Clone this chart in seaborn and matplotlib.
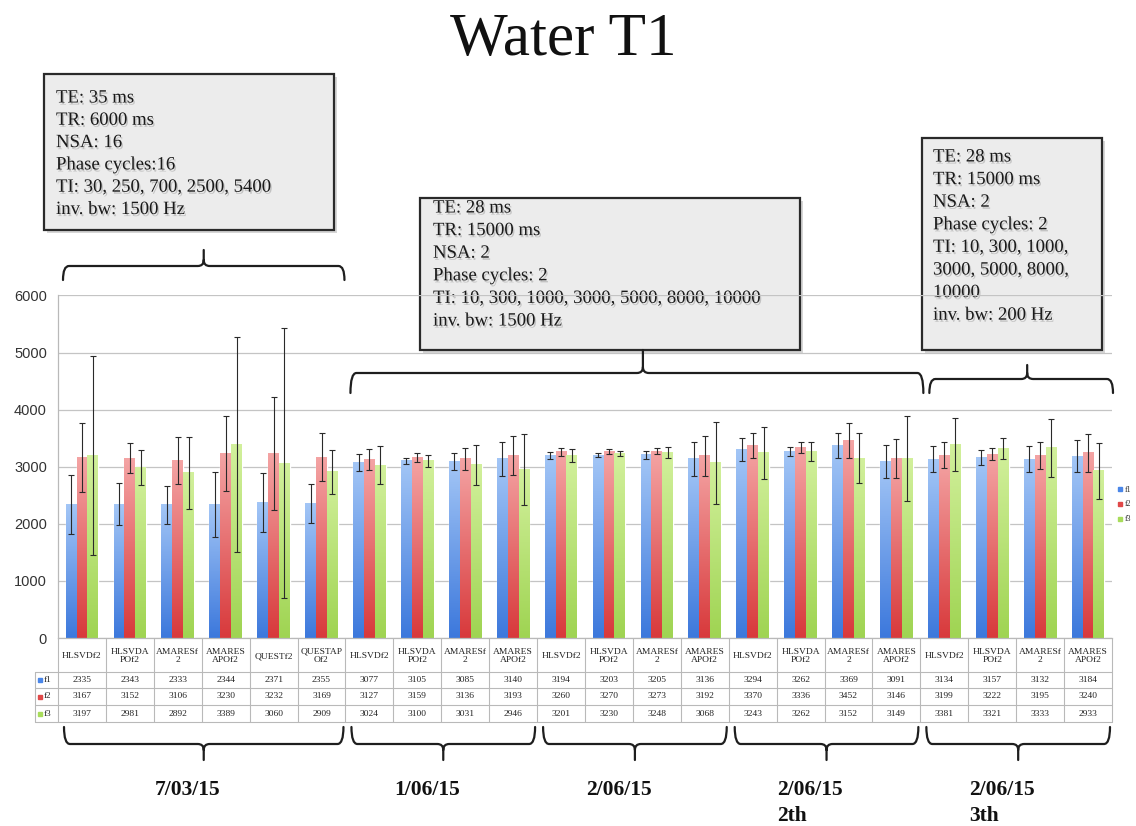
import numpy as np
import pandas as pd
import matplotlib
matplotlib.use("Agg")
import matplotlib.pyplot as plt
import matplotlib.transforms as mtransforms
import matplotlib.patheffects as pe
from matplotlib.path import Path
from matplotlib.patches import PathPatch, Rectangle
from matplotlib.lines import Line2D
from matplotlib.colors import LinearSegmentedColormap
import seaborn as sns

# ---------------------------------------------------------------- data
methods = ["HLSVDf2", "HLSVDAPOf2", "AMARESf2", "AMARESAPOf2", "QUESTf2", "QUESTAPOf2",
           "HLSVDf2", "HLSVDAPOf2", "AMARESf2", "AMARESAPOf2",
           "HLSVDf2", "HLSVDAPOf2", "AMARESf2", "AMARESAPOf2",
           "HLSVDf2", "HLSVDAPOf2", "AMARESf2", "AMARESAPOf2",
           "HLSVDf2", "HLSVDAPOf2", "AMARESf2", "AMARESAPOf2"]
header_text = {"HLSVDf2": "HLSVDf2", "HLSVDAPOf2": "HLSVDA\nPOf2", "AMARESf2": "AMARESf\n2",
               "AMARESAPOf2": "AMARES\nAPOf2", "QUESTf2": "QUESTf2", "QUESTAPOf2": "QUESTAP\nOf2"}

f1 = [2335, 2343, 2333, 2344, 2371, 2355,
      3077, 3105, 3085, 3140,
      3194, 3203, 3205, 3136,
      3294, 3262, 3369, 3091,
      3134, 3157, 3132, 3184]
f2 = [3167, 3152, 3106, 3230, 3232, 3169,
      3127, 3159, 3136, 3193,
      3260, 3270, 3273, 3192,
      3370, 3336, 3452, 3146,
      3199, 3222, 3195, 3240]
f3 = [3197, 2981, 2892, 3389, 3060, 2909,
      3024, 3100, 3031, 2946,
      3201, 3230, 3248, 3068,
      3243, 3262, 3152, 3149,
      3381, 3321, 3333, 2933]

f1_err = [520, 370, 330, 570, 515, 340,
          150, 55, 150, 300,
          55, 40, 65, 300,
          200, 80, 220, 290,
          225, 135, 225, 280]
f2_err = [605, 260, 410, 660, 985, 415,
          180, 85, 190, 345,
          70, 45, 50, 350,
          220, 90, 305, 340,
          230, 100, 230, 340]
f3_err = [1745, 310, 635, 1880, 2365, 385,
          330, 110, 345, 620,
          110, 45, 90, 720,
          460, 165, 435, 745,
          465, 190, 510, 490]

series_names = ["f1", "f2", "f3"]
y_ticks = [0, 1000, 2000, 3000, 4000, 5000, 6000]

session_labels = [["7/03/15"], ["1/06/15"], ["2/06/15"], ["2/06/15", "2th"], ["2/06/15", "3th"]]
session_sizes = [6, 4, 4, 4, 4]

protocol_notes = [
    ["TE: 35 ms", "TR: 6000 ms", "NSA: 16", "Phase cycles:16",
     "TI: 30, 250, 700, 2500, 5400", "inv. bw: 1500 Hz"],
    ["TE: 28 ms", "TR: 15000 ms", "NSA: 2", "Phase cycles: 2",
     "TI: 10, 300, 1000, 3000, 5000, 8000, 10000", "inv. bw: 1500 Hz"],
    ["TE: 28 ms", "TR: 15000 ms", "NSA: 2", "Phase cycles: 2",
     "TI: 10, 300, 1000,", "3000, 5000, 8000,", "10000", "inv. bw: 200 Hz"],
]
protocol_sessions = [(0, 0), (1, 3), (4, 4)]

# ---------------------------------------------------------------- style
W, H = 1136, 826
sns.set_style("white")
plt.rcParams["font.family"] = ["Liberation Serif", "DejaVu Serif"]

bar_bottom = {"f1": "#3c78dc", "f2": "#d8393b", "f3": "#9fd452"}
bar_top = {"f1": "#a3c6f6", "f2": "#f4a4a4", "f3": "#d2f09c"}
key_color = {"f1": "#4a86e8", "f2": "#e04848", "f3": "#a8dc5a"}
line_col = "#1e1e1e"
grid_col = "#c4c4c4"
table_col = "#b9b9b9"

fig = plt.figure(figsize=(W / 100, H / 100), dpi=100)
ax_left, ax_right, ax_top, ax_bottom = 58, 1112, 295.4, 638
ax = fig.add_axes([ax_left / W, 1 - ax_bottom / H, (ax_right - ax_left) / W, (ax_bottom - ax_top) / H])
ax.patch.set_visible(False)

n = len(methods)
df = pd.DataFrame({
    "col": np.tile(np.arange(n), 3),
    "series": np.repeat(series_names, n),
    "value": f1 + f2 + f3,
})
errs = {"f1": f1_err, "f2": f2_err, "f3": f3_err}

sns.barplot(data=df, x="col", y="value", hue="series", order=list(range(n)),
            hue_order=series_names, palette=bar_bottom, saturation=1,
            width=0.68, gap=0, errorbar=None, legend=False, ax=ax, zorder=2)

# vertical colour gradient inside each bar + error bars
grad = np.linspace(0, 1, 128).reshape(-1, 1)
for name, cont in zip(series_names, ax.containers):
    cmap = LinearSegmentedColormap.from_list(name, [bar_bottom[name], bar_top[name]])
    xs, ys = [], []
    for bar in cont:
        x0, w, h = bar.get_x(), bar.get_width(), bar.get_height()
        ax.imshow(grad, extent=(x0, x0 + w, 0, h), origin="lower", aspect="auto",
                  cmap=cmap, interpolation="bilinear", zorder=2.1)
        xs.append(x0 + w / 2)
        ys.append(h)
    ax.errorbar(xs, ys, yerr=errs[name], fmt="none", ecolor="#2a2a2a",
                elinewidth=0.8, capsize=2, capthick=0.8, zorder=3)

ax.set_xlim(-0.5, n - 0.5)
ax.set_ylim(0, 6000)
ax.set_yticks(y_ticks)
ax.set_xticks([])
ax.set_xlabel("")
ax.set_ylabel("")
ax.yaxis.grid(True, color=grid_col, lw=0.9)
ax.set_axisbelow(True)
ax.tick_params(axis="y", length=0, pad=8, labelsize=10.5, labelcolor="#333333")
for lbl in ax.get_yticklabels():
    lbl.set_fontfamily(["Liberation Sans", "DejaVu Sans"])
for s in ["top", "right"]:
    ax.spines[s].set_visible(False)
for s in ["left", "bottom"]:
    ax.spines[s].set_color(table_col)
    ax.spines[s].set_linewidth(0.9)

handles = [Line2D([], [], ls="", marker="s", ms=2.5, color=key_color[s]) for s in series_names]
ax.legend(handles, series_names, loc="center left", bbox_to_anchor=(1.006, 0.39),
          frameon=False, fontsize=5.5, handlelength=0.5, handletextpad=0.3,
          labelspacing=0.9, borderpad=0, borderaxespad=0)

# ---------------------------------------------------------------- helpers (pixel layout)
pix = mtransforms.Affine2D().scale(1 / W, -1 / H).translate(0, 1) + fig.transFigure
bl = mtransforms.blended_transform_factory(ax.transData, pix)
col_w = (ax_right - ax_left) / n


def col_px(x):
    return ax_left + (x + 0.5) * col_w


# ---------------------------------------------------------------- data table
row_edges = [672, 688, 705, 722]
tbl_left = 35
for k in range(n + 1):
    fig.add_artist(Line2D([k - 0.5, k - 0.5], [ax_bottom, row_edges[-1]], transform=bl,
                          color=table_col, lw=0.8))
fig.add_artist(Line2D([tbl_left, tbl_left], [row_edges[0], row_edges[-1]], transform=pix,
                      color=table_col, lw=0.8))
for y in row_edges:
    fig.add_artist(Line2D([tbl_left, ax_right], [y, y], transform=pix, color=table_col, lw=0.8))

head_mid = (ax_bottom + row_edges[0]) / 2 + 1
for i, m in enumerate(methods):
    fig.text(i, head_mid, header_text[m], transform=bl, ha="center", va="center",
             fontsize=6.8, linespacing=1.05, color="#222222")

for r, (name, vals) in enumerate(zip(series_names, [f1, f2, f3])):
    yc = (row_edges[r] + row_edges[r + 1]) / 2
    for i, v in enumerate(vals):
        fig.text(i, yc, f"{v}", transform=bl, ha="center", va="center",
                 fontsize=6.8, color="#222222")
    fig.add_artist(Line2D([40], [yc], transform=pix, ls="", marker="s", ms=2.5,
                          color=key_color[name]))
    fig.text(44, yc, name, transform=pix, ha="left", va="center", fontsize=6.5, color="#222222")


# ---------------------------------------------------------------- braces
def brace(x0, x1, xm, y_end, y_line, y_tip, r=6):
    s = 1 if y_tip < y_line else -1
    verts = [(x0, y_end), (x0, y_line), (x0 + r, y_line),
             (xm - r, y_line), (xm, y_line), (xm, y_line - s * r), (xm, y_tip),
             (xm, y_line - s * r), (xm, y_line), (xm + r, y_line),
             (x1 - r, y_line), (x1, y_line), (x1, y_end)]
    codes = [Path.MOVETO, Path.CURVE3, Path.CURVE3,
             Path.LINETO, Path.CURVE3, Path.CURVE3, Path.LINETO,
             Path.MOVETO, Path.CURVE3, Path.CURVE3,
             Path.LINETO, Path.CURVE3, Path.CURVE3]
    fig.add_artist(PathPatch(Path(verts, codes), fill=False, edgecolor=line_col,
                             lw=1.6, transform=pix, capstyle="round"))


starts = np.cumsum([0] + session_sizes[:-1])
ends = starts + np.array(session_sizes) - 1

# session braces below the table, with dates
for s_i, labels in enumerate(session_labels):
    x0 = col_px(starts[s_i] - 0.5) + 6
    x1 = col_px(ends[s_i] + 0.5) - 2
    xm = (x0 + x1) / 2
    brace(x0, x1, xm, 727, 744, 760)
    for j, line in enumerate(labels):
        fig.text(xm - 49, 790 + j * 26, line, transform=pix, ha="left", va="center",
                 fontsize=15.5, fontweight="bold", color="#111111")

# protocol boxes with braces above the bars
box_px = [(44, 74, 334, 230), (420, 198, 800, 350), (922, 138, 1102, 350)]
text_start = [(56, 98, 22.3), (433, 208, 22.6), (933, 157, 22.6)]
brace_y = [(280, 266, 250), (393, 373, 350), (393, 379, 365)]
brace_inset = [(5, 1), (5, -3), (9, -1)]
for notes, (sa, sb), (bx0, by0, bx1, by1), (tx, ty, dy), (ye, yl, yt), (il, ir) in zip(
        protocol_notes, protocol_sessions, box_px, text_start, brace_y, brace_inset):
    x0 = col_px(starts[sa] - 0.5) + il
    x1 = col_px(ends[sb] + 0.5) - ir
    xm = (x0 + x1) / 2 + (0 if sa == 0 else 6)
    brace(x0, x1, xm, ye, yl, yt)
    shadow = Rectangle((bx0 + 3, by0 + 3), bx1 - bx0, by1 - by0, transform=pix,
                       facecolor="#8a8a8a", edgecolor="none", alpha=0.35, zorder=-2)
    box = Rectangle((bx0, by0), bx1 - bx0, by1 - by0, transform=pix,
                    facecolor="#ececec", edgecolor="#2a2a2a", lw=1.6, zorder=-1)
    fig.add_artist(shadow)
    fig.add_artist(box)
    for j, line in enumerate(notes):
        fig.text(tx, ty + j * dy, line, transform=pix, ha="left", va="center",
                 fontsize=13.5, color="#1a1a1a", zorder=-0.5,
                 path_effects=[pe.withSimplePatchShadow(offset=(1, -1.5),
                                                        shadow_rgbFace="#777777", alpha=0.35)])

# ---------------------------------------------------------------- title
fig.text(563, 40, "Water T1", transform=pix, ha="center", va="center", fontsize=44, color="#111111")

fig.savefig("out.png", dpi=100)
